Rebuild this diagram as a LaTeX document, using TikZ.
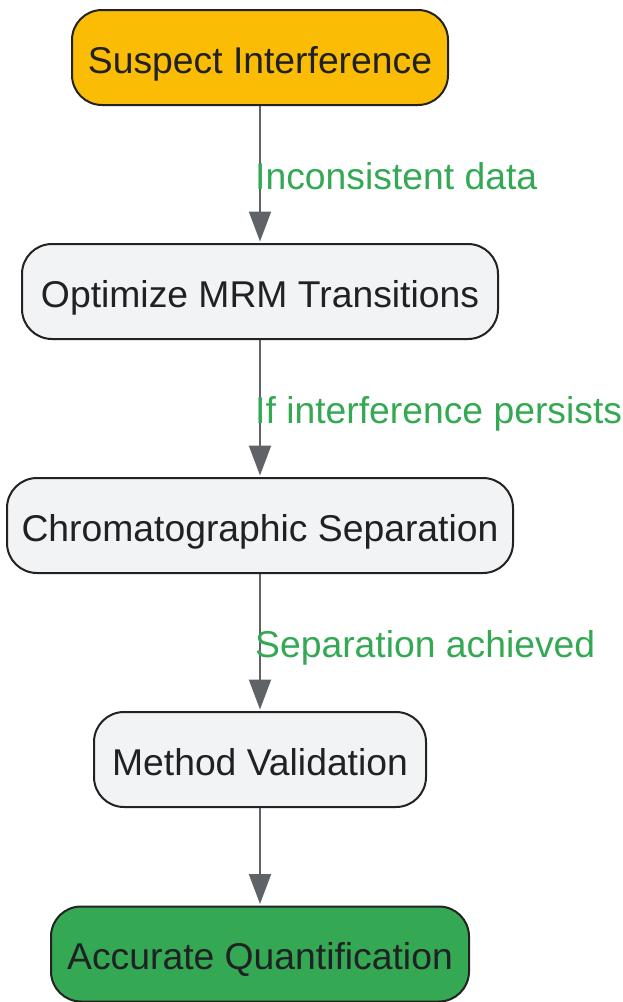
\documentclass[tikz,border=0pt]{standalone}
\usepackage{fontspec}
\setmainfont{Liberation Sans}
\usetikzlibrary{arrows.meta}
\definecolor{borderc}{HTML}{222222}
\definecolor{grayfill}{HTML}{F1F3F4}
\definecolor{orangefill}{HTML}{FBBC05}
\definecolor{greenfill}{HTML}{34A853}
\definecolor{arrowc}{HTML}{5F6368}
\definecolor{textc}{HTML}{202124}
\tikzset{
  box/.style={draw=borderc, line width=2pt, rounded corners=30pt, minimum height=95pt,
    inner sep=0pt, text height=31pt, text depth=0pt, text=textc, font=\fontsize{37.3}{44}\selectfont},
  flow/.style={draw=arrowc, line width=2pt, -{Triangle[width=22pt,length=30pt]}, shorten >=1.5pt},
  lbl/.style={anchor=base west, inner sep=0pt, text=greenfill, font=\fontsize{37.3}{44}\selectfont}
}
\begin{document}
\begin{tikzpicture}[x=1pt,y=-1pt]
\useasboundingbox (0,0) rectangle (623,1002);
\node[box, fill=orangefill, minimum width=376pt] (n1) at (260,57.5) {Suspect Interference};
\node[box, fill=grayfill, minimum width=476pt] (n2) at (260,291.5) {Optimize MRM Transitions};
\node[box, fill=grayfill, minimum width=506pt] (n3) at (260,525.5) {Chromatographic Separation};
\node[box, fill=grayfill, minimum width=332pt] (n4) at (260,759.5) {Method Validation};
\node[box, fill=greenfill, minimum width=418pt] (n5) at (260,954) {Accurate Quantification};
\draw[flow] (n1) -- (n2);
\draw[flow] (n2) -- (n3);
\draw[flow] (n3) -- (n4);
\draw[flow] (n4) -- (n5);
\node[lbl] (l1) at (255,189) {Inconsistent data};
\node[lbl] (l2) at (255,423) {If interference persists};
\node[lbl] (l3) at (255,657) {Separation achieved};
\end{tikzpicture}
\end{document}
